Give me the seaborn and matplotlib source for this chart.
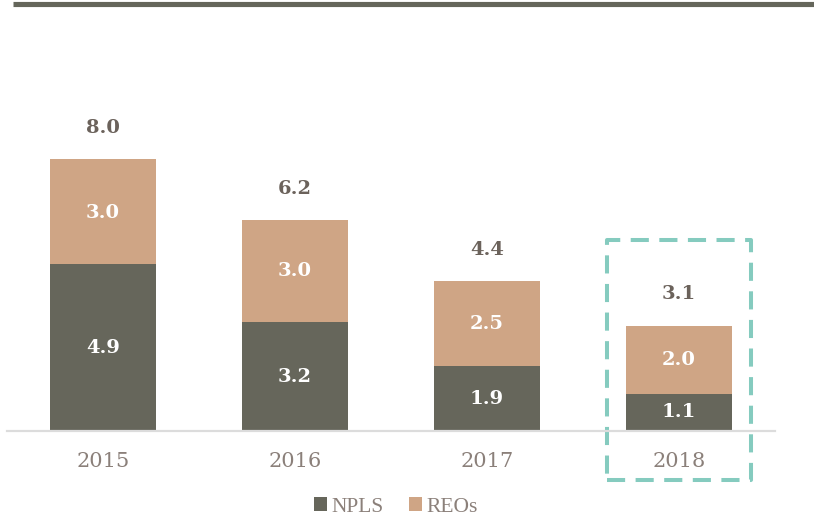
import matplotlib
matplotlib.use("Agg")
import matplotlib.pyplot as plt
from matplotlib.lines import Line2D
from matplotlib.patches import Patch, Rectangle
import seaborn as sns
import pandas as pd

years = ["2015", "2016", "2017", "2018"]
npls = [4.9, 3.2, 1.9, 1.1]
reos = [3.0, 3.0, 2.5, 2.0]
totals = [8.0, 6.2, 4.4, 3.1]

NPL_COLOR = "#66665b"
REO_COLOR = "#cfa585"
TOTAL_TEXT = "#6b625b"
TICK_TEXT = "#8b807a"
BOX_COLOR = "#85cbbf"

df = pd.DataFrame({"year": years, "npls": npls, "reos": reos, "total": totals})

sns.set_theme(style="white")
plt.rcParams["font.family"] = ["DejaVu Serif"]

W, H = 814, 520
fig = plt.figure(figsize=(W / 100, H / 100), dpi=100)
ax = fig.add_axes([7 / W, 89 / H, 768 / W, 408 / H])

bar_w = 0.557
# stacked bars: REOs on top of NPLS
sns.barplot(data=df, x="year", y="total", color=REO_COLOR, width=bar_w,
            saturation=1, ax=ax, edgecolor="none")
sns.barplot(data=df, x="year", y="npls", color=NPL_COLOR, width=bar_w,
            saturation=1, ax=ax, edgecolor="none")

ax.set_xlim(-0.5, 3.5)
ax.set_ylim(0, 12)
ax.set_xlabel("")
ax.set_ylabel("")
ax.set_yticks([])
for s in ["top", "right", "left"]:
    ax.spines[s].set_visible(False)
ax.spines["bottom"].set_color("#dcdcdc")
ax.spines["bottom"].set_linewidth(1.6)
ax.tick_params(axis="x", length=0, pad=15, labelsize=15, labelcolor=TICK_TEXT)

for i in range(len(years)):
    ax.text(i, npls[i] / 2, f"{npls[i]:.1f}", ha="center", va="center",
            color="white", fontsize=14, fontweight="bold")
    ax.text(i, npls[i] + reos[i] / 2, f"{reos[i]:.1f}", ha="center", va="center",
            color="white", fontsize=14, fontweight="bold")
    ax.annotate(f"{totals[i]:.1f}", (i, totals[i]), xytext=(0, 22.5),
                textcoords="offset points", ha="center", va="center",
                color=TOTAL_TEXT, fontsize=14, fontweight="bold")

# highlight box around the latest year
box = Rectangle((3 - 0.375, -1.44), 0.75, 7.06, fill=False,
                edgecolor=BOX_COLOR, linewidth=2.9, linestyle=(0, (4.5, 2.6)),
                clip_on=False, joinstyle="round")
ax.add_patch(box)

# heading rule
fig.add_artist(Line2D([13 / W, 1], [1 - 3.5 / H, 1 - 3.5 / H],
                      color="#65665b", linewidth=3.7, solid_capstyle="butt"))

handles = [Patch(facecolor=NPL_COLOR, edgecolor="none", label="NPLS"),
           Patch(facecolor=REO_COLOR, edgecolor="none", label="REOs")]
leg = fig.legend(handles=handles, loc="center", bbox_to_anchor=(396 / W, 1 - 507 / H),
                 ncol=2, frameon=False, handlelength=0.6, handleheight=0.6,
                 handletextpad=0.2, columnspacing=1.2,
                 prop={"family": "Liberation Serif", "size": 15.5})
for t in leg.get_texts():
    t.set_color(TICK_TEXT)

fig.savefig("out.png", dpi=100)
